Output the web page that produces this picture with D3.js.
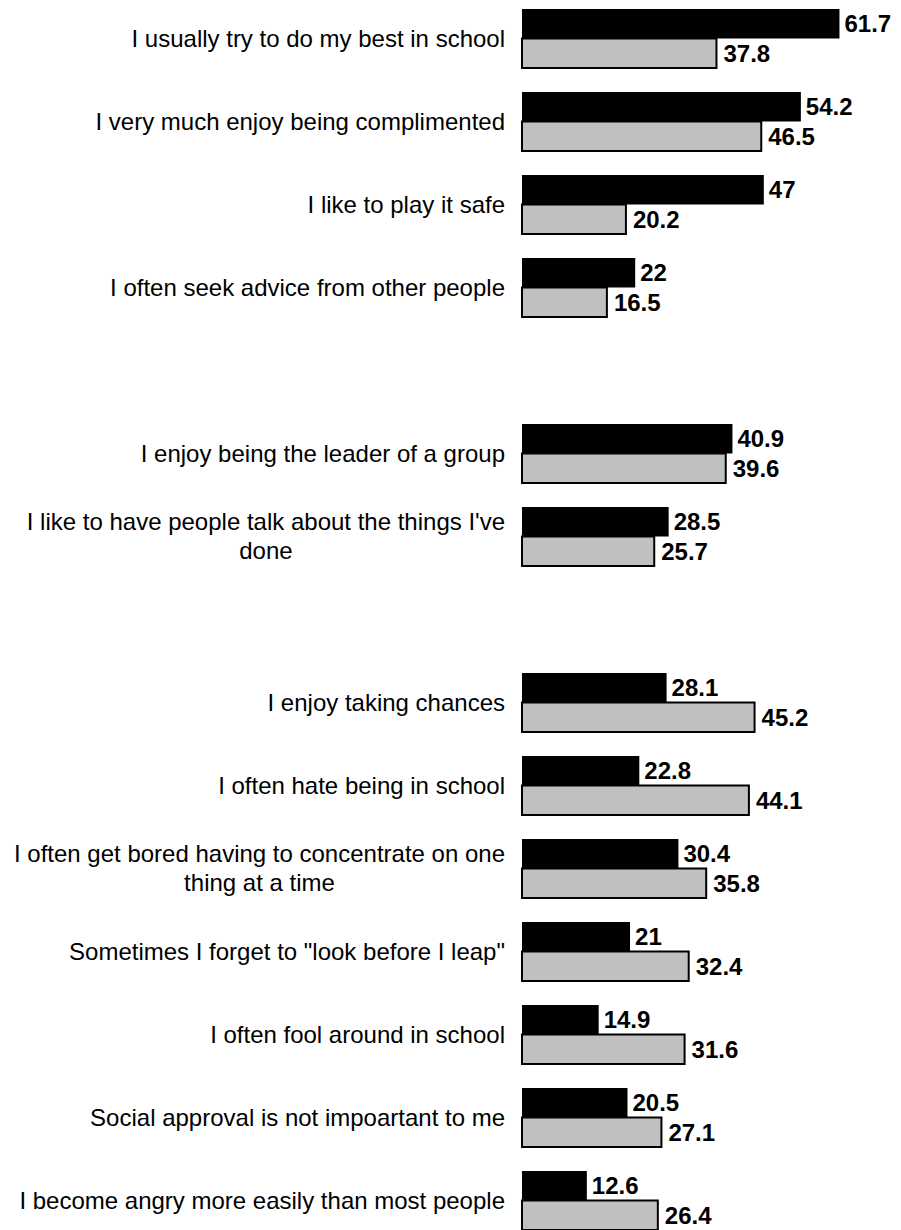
<!DOCTYPE html>
<html>
<head>
<meta charset="utf-8">
<script src="https://cdn.jsdelivr.net/npm/d3@7"></script>
<style>
  body { margin: 0; background: #fff; }
  text { font-family: "Liberation Sans", Arial, sans-serif; }
</style>
</head>
<body>
<svg id="chart"></svg>
<script>
// three groups of statements, with an empty slot between groups
const group1 = ["I usually try to do my best in school", "I very much enjoy being complimented",
                "I like to play it safe", "I often seek advice from other people"];
const group2 = ["I enjoy being the leader of a group", "I like to have people talk about the things I've done"];
const group3 = ["I enjoy taking chances", "I often hate being in school",
                "I often get bored having to concentrate on one thing at a time",
                "Sometimes I forget to \"look before I leap\"", "I often fool around in school",
                "Social approval is not impoartant to me", "I become angry more easily than most people"];

const seriesA = [61.7, 54.2, 47, 22, 40.9, 28.5, 28.1, 22.8, 30.4, 21, 14.9, 20.5, 12.6];
const seriesB = [37.8, 46.5, 20.2, 16.5, 39.6, 25.7, 45.2, 44.1, 35.8, 32.4, 31.6, 27.1, 26.4];

const width = 901, height = 1230;
const labelRight = 505, wrapWidth = 500;

const categories = [...group1, ...group2, ...group3];
const slots = [...group1, "_gap1", ...group2, "_gap2", ...group3];
const data = categories.map((c, i) => ({name: c, a: seriesA[i], b: seriesB[i]}));

const svg = d3.select('#chart').attr('width', width).attr('height', height);

const x = d3.scaleLinear().domain([0, 62]).range([522, 841]);
const y = d3.scaleBand().domain(slots).range([9, 9 + slots.length * 83]);
const ySub = d3.scaleBand().domain(['a', 'b']).range([0, 59]);

const rows = svg.selectAll('.row')
    .data(data)
  .join('g')
    .attr('class', 'row')
    .attr('transform', d => `translate(0,${y(d.name)})`);

rows.append('rect')
    .attr('x', x(0))
    .attr('y', ySub('a'))
    .attr('width', d => x(d.a) - x(0))
    .attr('height', ySub.bandwidth())
    .attr('fill', '#000');

rows.append('rect')
    .attr('x', x(0))
    .attr('y', ySub('b'))
    .attr('width', d => x(d.b) - x(0))
    .attr('height', ySub.bandwidth())
    .attr('fill', '#c0c0c0')
    .attr('stroke', '#000')
    .attr('stroke-width', 2);

rows.append('text')
    .attr('x', d => x(d.a) + 5)
    .attr('y', ySub('a') + ySub.bandwidth() / 2)
    .attr('dy', '0.35em')
    .style('font-size', '24px')
    .style('font-weight', 'bold')
    .text(d => d.a);

rows.append('text')
    .attr('x', d => x(d.b) + 7)
    .attr('y', ySub('b') + ySub.bandwidth() / 2)
    .attr('dy', '0.35em')
    .style('font-size', '24px')
    .style('font-weight', 'bold')
    .text(d => d.b);

// category labels, wrapped; multi-line labels are centred as a block
rows.each(function(d) {
  const g = d3.select(this);
  const t = g.append('text').style('font-size', '24px');
  const words = d.name.split(' ');
  let lines = [], line = [];
  const probe = t.append('tspan');
  words.forEach(w => {
    line.push(w);
    probe.text(line.join(' '));
    if (probe.node().getComputedTextLength() > wrapWidth && line.length > 1) {
      line.pop();
      lines.push(line.join(' '));
      line = [w];
    }
  });
  lines.push(line.join(' '));
  probe.remove();

  const lineH = 29;
  const mid = 59 / 2;
  const y0 = mid - (lines.length - 1) * lineH / 2;
  if (lines.length === 1) {
    t.attr('text-anchor', 'end')
      .append('tspan').attr('x', labelRight).attr('y', y0).attr('dy', '0.35em').text(lines[0]);
  } else {
    const tmp = lines.map(l => { const s = t.append('tspan').text(l); const w = s.node().getComputedTextLength(); s.remove(); return w; });
    const cx = labelRight - d3.max(tmp) / 2;
    t.attr('text-anchor', 'middle');
    lines.forEach((l, i) => {
      t.append('tspan').attr('x', cx).attr('y', y0 + i * lineH).attr('dy', '0.35em').text(l);
    });
  }
});
</script>
</body>
</html>
